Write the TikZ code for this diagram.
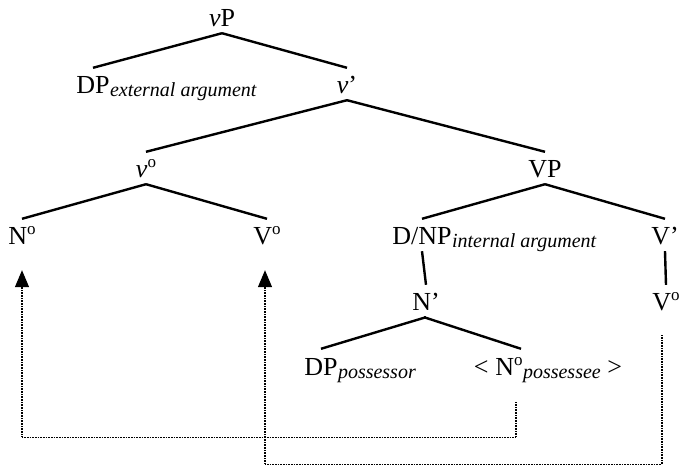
\documentclass[tikz,border=0pt]{standalone}
\usepackage{fontspec}
\setmainfont{Liberation Serif}
\usetikzlibrary{arrows.meta}

\newcommand{\lowtag}[1]{\raisebox{-3pt}{\fontsize{20}{20}\selectfont\itshape #1}}
\newcommand{\supo}{\raisebox{10pt}{\fontsize{17}{17}\selectfont o}}

\begin{document}
\begin{tikzpicture}[x=1pt, y=-1pt, >={Triangle[length=17pt, width=14pt]},
    cat/.style={font=\fontsize{26}{26}\selectfont, inner sep=0pt, text height=26pt, text depth=6pt, anchor=base},
    tag/.style={font=\fontsize{26}{26}\selectfont, inner sep=0pt, anchor=base west},
    branch/.style={line width=2.4pt},
    move/.style={->, line width=1.3pt, dash pattern=on 1pt off 0.6pt}]
      \useasboundingbox (0, 0) rectangle (681, 468);

      \node[cat] (vP) at (222, 27) {\textit{v}P};
      \node[cat] (DPe) at (93, 94) {DP};
      \node[tag] (DPetag) at (DPe.base east) {\lowtag{external argument}};
      \node[cat] (vbar) at (347, 94) {\textit{v}’};
      \node[cat] (vzero) at (146, 178) {\textit{v}\supo};
      \node[cat] (VP) at (545, 178) {VP};
      \node[cat] (Nzero) at (22, 245) {N\supo};
      \node[cat] (Vzero) at (267, 245) {V\supo};
      \node[cat] (DNP) at (422, 245) {D/NP};
      \node[tag] (DNPtag) at (DNP.base east) {\lowtag{internal argument}};
      \node[cat] (Vbar) at (665, 245) {V’};
      \node[cat] (Nbar) at (426, 311) {N’};
      \node[cat] (Vlow) at (666, 311) {V\supo};
      \node[cat] (DPp) at (321, 375) {DP};
      \node[tag] (DPptag) at (DPp.base east) {\lowtag{possessor}};
      \node[cat] (Nposs) at (509, 375) {N\supo};
      \node[cat, anchor=base east] (ltag) at ([xshift=-6.5pt]Nposs.base west) {<};
      \node[tag] (Npossr) at (Nposs.base east) {\lowtag{possessee} >};

      \draw[branch] (vP.south) -- (DPe.north);
      \draw[branch] (vP.south) -- (vbar.north);
      \draw[branch] (vbar.south) -- (vzero.north);
      \draw[branch] (vbar.south) -- (VP.north);
      \draw[branch] (vzero.south) -- (Nzero.north);
      \draw[branch] (vzero.south) -- (Vzero.north);
      \draw[branch] (VP.south) -- (DNP.north);
      \draw[branch] (VP.south) -- (Vbar.north);
      \draw[branch] (DNP.south) -- (Nbar.north);
      \draw[branch] (Vbar.south) -- (Vlow.north);
      \draw[branch] (Nbar.south) -- (DPp.north);
      \draw[branch] ([xshift=-2pt]Nbar.south) -- ([xshift=12pt]Nposs.north);

      \draw[move, shorten <=21pt, shorten >=19pt] ([xshift=7pt]Nposs.south) -- ++(0, 56) -| (Nzero.south);
      \draw[move, shorten <=18pt, shorten >=19pt] ([xshift=-4pt]Vlow.south) -- ++(0, 147) -| ([xshift=-2pt]Vzero.south);

    \end{tikzpicture}
\end{document}
